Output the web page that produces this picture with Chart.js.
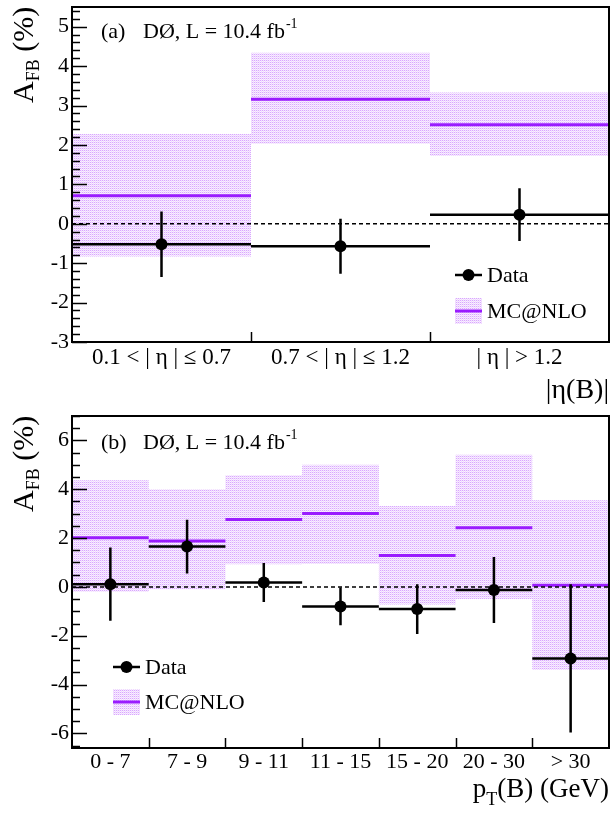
<!DOCTYPE html>
<html>
<head>
<meta charset="utf-8">
<script src="https://cdn.jsdelivr.net/npm/chart.js@4.4.0/dist/chart.umd.min.js"></script>
<style>
  body { margin: 0; background: #fff; }
  canvas { position: absolute; left: 0; }
  #etaChart { top: 0; }
  #ptChart { top: 400px; }
</style>
</head>
<body>
<canvas id="etaChart" width="615" height="410"></canvas>
<canvas id="ptChart" width="615" height="415"></canvas>
<script>
// panel (a): |eta(B)| bins
const etaLabels = ["0.1 < | η | ≤ 0.7", "0.7 < | η | ≤ 1.2", "| η | > 1.2"];
const etaData = [-0.52, -0.57, 0.23];
const etaErr = [0.83, 0.70, 0.67];
const etaMC = [0.71, 3.16, 2.51];
const etaMCHigh = [2.28, 4.34, 3.33];
const etaMCLow = [-0.83, 2.03, 1.72];
const etaYTicks = [-3, -2, -1, 0, 1, 2, 3, 4, 5];

// panel (b): pT(B) bins
const ptLabels = ["0 - 7", "7 - 9", "9 - 11", "11 - 15", "15 - 20", "20 - 30", "> 30"];
const ptData = [0.11, 1.65, 0.18, -0.80, -0.91, -0.13, -2.93];
const ptErr = [1.50, 1.10, 0.80, 0.77, 1.02, 1.35, 3.04];
const ptMC = [2.01, 1.88, 2.76, 3.01, 1.29, 2.42, 0.07];
const ptMCHigh = [4.37, 4.00, 4.57, 5.00, 3.31, 5.41, 3.55];
const ptMCLow = [-0.20, -0.10, 0.93, 0.94, -0.72, -0.50, -3.40];
const ptYTicks = [-6, -4, -2, 0, 2, 4, 6];

const SERIF = "'Liberation Serif', 'Times New Roman', serif";
const MC_COLOR = "#9a1cff";

function makeBandPattern(ctx) {
    const tile = document.createElement("canvas");
    tile.width = 2;
    tile.height = 2;
    const t = tile.getContext("2d");
    t.fillStyle = "#d9a6ff";
    t.fillRect(0, 0, 1, 1);
    t.fillStyle = "#f3e3ff";
    t.fillRect(1, 0, 1, 1);
    t.fillStyle = "#fbf4ff";
    t.fillRect(0, 1, 1, 1);
    t.fillStyle = "#efd9ff";
    t.fillRect(1, 1, 1, 1);
    return ctx.createPattern(tile, "repeat");
}

// one flat segment per bin, broken between bins
function binSegments(values) {
    const pts = [];
    values.forEach((v, i) => pts.push({ x: i, y: v }, { x: i + 1, y: v }, { x: i + 1, y: null }));
    return pts;
}

// continuous step outline (used for the band edges)
function bandEdge(values) {
    const pts = [];
    values.forEach((v, i) => pts.push({ x: i, y: v }, { x: i + 1, y: v }));
    return pts;
}

function errorBars(values, errs) {
    const pts = [];
    values.forEach((v, i) => pts.push({ x: i + 0.5, y: v - errs[i] }, { x: i + 0.5, y: v + errs[i] }, { x: i + 0.5, y: null }));
    return pts;
}

const rootStyle = {
    id: "rootStyle",
    afterDraw(chart, args, o) {
        const { ctx, chartArea: a, scales: { x, y } } = chart;
        ctx.save();
        ctx.strokeStyle = "#000";
        ctx.fillStyle = "#000";

        // y ticks (inside)
        ctx.lineWidth = 1.5;
        const step = o.minorStep;
        for (let k = Math.ceil(o.yMin / step - 1e-6); k * step <= o.yMax + 1e-6; k++) {
            const v = k * step;
            const major = Math.abs(v - Math.round(v / o.majorStep) * o.majorStep) < 1e-6;
            const py = Math.round(y.getPixelForValue(v)) + 0.5;
            ctx.beginPath();
            ctx.moveTo(a.left, py);
            ctx.lineTo(a.left + (major ? 15 : 8), py);
            ctx.stroke();
        }
        // x ticks at bin edges
        for (let i = 1; i < o.nBins; i++) {
            const px = Math.round(x.getPixelForValue(i)) + 0.5;
            ctx.beginPath();
            ctx.moveTo(px, a.bottom);
            ctx.lineTo(px, a.bottom - 10);
            ctx.stroke();
        }
        // frame
        ctx.lineWidth = 2;
        ctx.strokeRect(a.left, a.top, a.right - a.left, a.bottom - a.top);

        // label "(a)  DØ, L = 10.4 fb-1"
        ctx.textBaseline = "alphabetic";
        ctx.textAlign = "left";
        ctx.font = "22px " + SERIF;
        ctx.fillText(o.tag, 101, o.tagY);
        const lumi = "DØ, L = 10.4 fb";
        ctx.fillText(lumi, 143, o.tagY);
        const lw = ctx.measureText(lumi).width;
        ctx.font = "14px " + SERIF;
        ctx.fillText("-1", 143 + lw + 1, o.tagY - 10);

        // legend
        const L = o.legend;
        ctx.lineWidth = 2.5;
        ctx.beginPath();
        ctx.moveTo(L.x, L.dataY);
        ctx.lineTo(L.x + 27, L.dataY);
        ctx.stroke();
        ctx.beginPath();
        ctx.arc(L.x + 13.5, L.dataY, 6, 0, Math.PI * 2);
        ctx.fill();
        ctx.fillStyle = o.band;
        ctx.fillRect(L.x, L.mcY - 13, 27, 26);
        ctx.strokeStyle = MC_COLOR;
        ctx.lineWidth = 3;
        ctx.beginPath();
        ctx.moveTo(L.x, L.mcY);
        ctx.lineTo(L.x + 27, L.mcY);
        ctx.stroke();
        ctx.fillStyle = "#000";
        ctx.font = "22px " + SERIF;
        ctx.fillText("Data", L.x + 32, L.dataY + 7);
        ctx.fillText("MC@NLO", L.x + 32, L.mcY + 7);

        // y title A_FB (%)
        ctx.save();
        ctx.translate(33, o.yTitleY);
        ctx.rotate(-Math.PI / 2);
        ctx.font = "30px " + SERIF;
        ctx.fillText("A", 0, 0);
        let tx = ctx.measureText("A").width;
        ctx.font = "18px " + SERIF;
        ctx.fillText("FB", tx, 6);
        tx += ctx.measureText("FB").width;
        ctx.font = "30px " + SERIF;
        ctx.fillText(" (%)", tx, 0);
        ctx.restore();

        // x title, right aligned
        const parts = o.xTitle;
        let total = 0;
        parts.forEach(p => { ctx.font = p.size + "px " + SERIF; total += ctx.measureText(p.text).width; });
        let xx = a.right - total;
        parts.forEach(p => {
            ctx.font = p.size + "px " + SERIF;
            ctx.fillText(p.text, xx, o.xTitleY + (p.dy || 0));
            xx += ctx.measureText(p.text).width;
        });
        ctx.restore();
    }
};

function buildChart(id, cfg) {
    const ctx = document.getElementById(id).getContext("2d");
    const n = cfg.labels.length;
    const band = makeBandPattern(ctx);
    const none = "rgba(0,0,0,0)";
    return new Chart(ctx, {
        type: "line",
        data: {
            datasets: [
                { data: bandEdge(cfg.mcHigh), fill: "+1", backgroundColor: band, borderColor: none, borderWidth: 0, pointRadius: 0, order: 4 },
                { data: bandEdge(cfg.mcLow), fill: false, borderColor: none, borderWidth: 0, pointRadius: 0, order: 4 },
                { data: binSegments(cfg.mc), borderColor: MC_COLOR, borderWidth: 3, pointRadius: 0, order: 3 },
                { data: [{ x: 0, y: 0 }, { x: n, y: 0 }], borderColor: "#000", borderWidth: 1.5, borderDash: [4, 3], pointRadius: 0, order: 2 },
                { data: binSegments(cfg.data), borderColor: "#000", borderWidth: 2.5, pointRadius: 0, order: 1 },
                { data: errorBars(cfg.data, cfg.err), borderColor: "#000", borderWidth: 2.5, pointRadius: 0, order: 1 },
                { data: cfg.data.map((v, i) => ({ x: i + 0.5, y: v })), showLine: false, pointRadius: 6, pointBackgroundColor: "#000", pointBorderWidth: 0, order: 0 }
            ]
        },
        options: {
            responsive: false,
            animation: false,
            events: [],
            layout: { padding: { top: cfg.top, right: 1, left: 0, bottom: 0 } },
            plugins: {
                legend: { display: false },
                tooltip: { enabled: false },
                rootStyle: {
                    nBins: n, yMin: cfg.yMin, yMax: cfg.yMax, minorStep: cfg.minorStep, majorStep: cfg.majorStep,
                    tag: cfg.tag, tagY: cfg.tagY, legend: cfg.legend, band: band,
                    yTitleY: cfg.yTitleY, xTitle: cfg.xTitle, xTitleY: cfg.xTitleY
                }
            },
            scales: {
                x: {
                    type: "linear", min: 0, max: n,
                    grid: { display: false, drawTicks: false },
                    border: { display: false },
                    afterBuildTicks: s => { s.ticks = cfg.labels.map((l, i) => ({ value: i + 0.5 })); },
                    afterFit: s => { s.height = cfg.xAxisHeight; s.paddingLeft = 0; s.paddingRight = 0; },
                    ticks: {
                        callback: (v, i) => cfg.labels[i],
                        font: { family: SERIF, size: cfg.xFont },
                        color: "#000", padding: cfg.xPad, maxRotation: 0, autoSkip: false
                    }
                },
                y: {
                    min: cfg.yMin, max: cfg.yMax,
                    grid: { display: false, drawTicks: false },
                    border: { display: false },
                    afterBuildTicks: s => { s.ticks = cfg.yTicks.map(v => ({ value: v })); },
                    afterFit: s => { s.width = 72; s.paddingTop = 0; s.paddingBottom = 0; },
                    ticks: {
                        callback: v => String(v),
                        font: { family: SERIF, size: 22 },
                        color: "#000", padding: 3
                    }
                }
            }
        },
        plugins: [rootStyle]
    });
}

buildChart("etaChart", {
    labels: etaLabels, data: etaData, err: etaErr, mc: etaMC, mcHigh: etaMCHigh, mcLow: etaMCLow,
    yTicks: etaYTicks, yMin: -3, yMax: 5.5, minorStep: 0.2, majorStep: 1,
    top: 7, xAxisHeight: 68, xFont: 23, xPad: 2,
    tag: "(a)", tagY: 38,
    legend: { x: 455, dataY: 275, mcY: 311 },
    yTitleY: 103,
    xTitle: [{ text: "|η(B)|", size: 28 }], xTitleY: 398
});

buildChart("ptChart", {
    labels: ptLabels, data: ptData, err: ptErr, mc: ptMC, mcHigh: ptMCHigh, mcLow: ptMCLow,
    yTicks: ptYTicks, yMin: -6.6, yMax: 7, minorStep: 0.5, majorStep: 2,
    top: 16, xAxisHeight: 67, xFont: 22, xPad: 1,
    tag: "(b)", tagY: 49,
    legend: { x: 113, dataY: 267, mcY: 302 },
    yTitleY: 112,
    xTitle: [{ text: "p", size: 27 }, { text: "T", size: 18, dy: 8 }, { text: "(B) (GeV)", size: 27 }], xTitleY: 397
});
</script>
</body>
</html>
